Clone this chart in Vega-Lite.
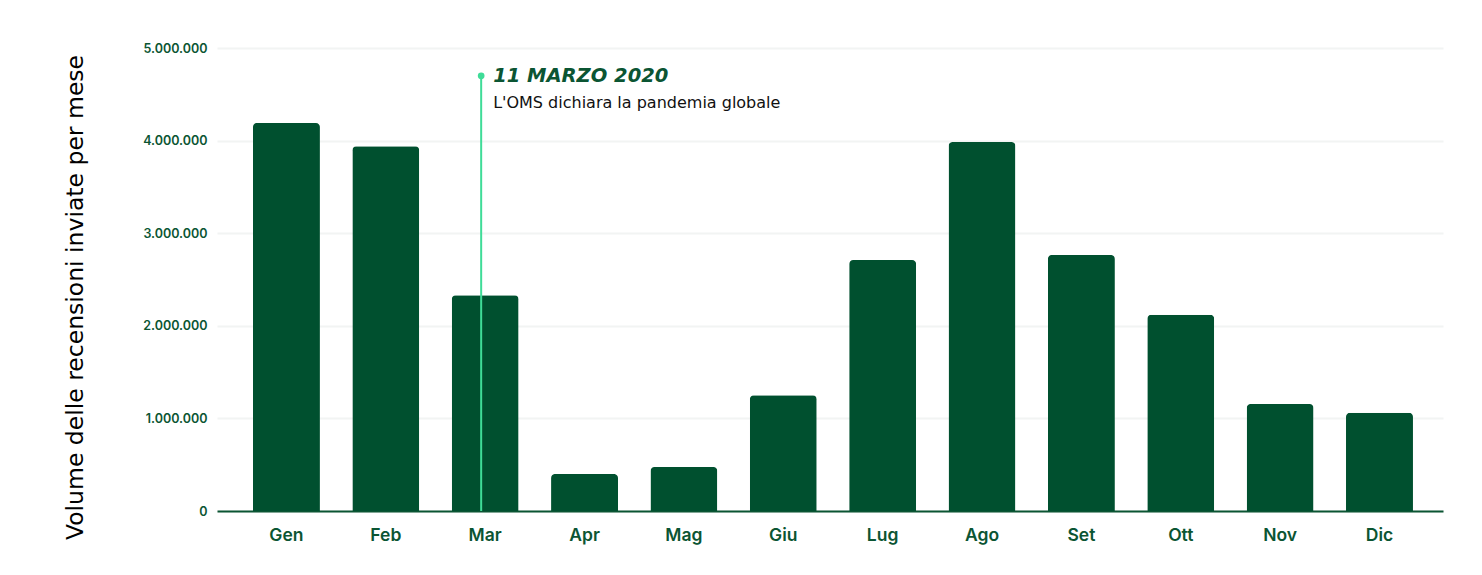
{
  "$schema": "https://vega.github.io/schema/vega-lite/v6.json",
  "width": 1226,
  "height": 463,
  "autosize": {"type": "none"},
  "padding": {"left": 217, "top": 48, "right": 39, "bottom": 64},
  "background": "white",
  "config": {"view": {"stroke": null}, "font": "Inter"},
  "datasets": {
    "months": [
      {"mese": "Gen", "recensioni": 4190000},
      {"mese": "Feb", "recensioni": 3940000},
      {"mese": "Mar", "recensioni": 2330000},
      {"mese": "Apr", "recensioni": 400000},
      {"mese": "Mag", "recensioni": 475000},
      {"mese": "Giu", "recensioni": 1250000},
      {"mese": "Lug", "recensioni": 2710000},
      {"mese": "Ago", "recensioni": 3985000},
      {"mese": "Set", "recensioni": 2765000},
      {"mese": "Ott", "recensioni": 2120000},
      {"mese": "Nov", "recensioni": 1155000},
      {"mese": "Dic", "recensioni": 1060000}
    ],
    "evento": [
      {"mese": "Mar", "livello": 4700000, "titolo": "11 MARZO 2020", "testo": "L'OMS dichiara la pandemia globale"}
    ]
  },
  "layer": [
    {
      "data": {"name": "months"},
      "mark": {"type": "bar", "color": "#00502f", "cornerRadiusTopLeft": 4, "cornerRadiusTopRight": 4},
      "encoding": {
        "x": {
          "field": "mese", "type": "nominal",
          "scale": {"domain": ["Gen", "Feb", "Mar", "Apr", "Mag", "Giu", "Lug", "Ago", "Set", "Ott", "Nov", "Dic"], "paddingInner": 0.326, "paddingOuter": 0.332, "align": 0.545},
          "axis": {
            "title": null, "labelAngle": 0, "ticks": false,
            "domainColor": "#0b5533", "domainWidth": 2,
            "labelFont": "Inter", "labelFontSize": 17.5, "labelFontWeight": 600,
            "labelColor": "#0b5533", "labelPadding": 15
          }
        },
        "y": {
          "field": "recensioni", "type": "quantitative",
          "scale": {"domain": [0, 5000000], "nice": false},
          "axis": {
            "values": [0, 1000000, 2000000, 3000000, 4000000, 5000000],
            "labelExpr": "replace(replace(format(datum.value, ','), ',', '.'), ',', '.')",
            "domain": false, "ticks": false,
            "gridColor": "#f2f4f3", "gridWidth": 2,
            "labelFont": "Inter", "labelFontSize": 12.5, "labelFontWeight": 600,
            "labelColor": "#0b5533", "labelPadding": 10,
            "title": "Volume delle recensioni inviate per mese",
            "titleFont": "DejaVu Sans", "titleFontSize": 23.5, "titleFontWeight": "normal",
            "titleColor": "#000000", "titleAngle": -90, "titleAlign": "center",
            "titleBaseline": "alphabetic", "titleX": -135, "titleY": 249
          }
        }
      }
    },
    {
      "data": {"name": "evento"},
      "mark": {"type": "rule", "color": "#3fdc98", "strokeWidth": 2},
      "encoding": {
        "x": {"field": "mese", "type": "nominal", "bandPosition": 0.44},
        "y": {"field": "livello", "type": "quantitative"},
        "y2": {"datum": 0}
      }
    },
    {
      "data": {"name": "evento"},
      "mark": {"type": "point", "filled": true, "color": "#3fdc98", "size": 45, "opacity": 1},
      "encoding": {
        "x": {"field": "mese", "type": "nominal", "bandPosition": 0.44},
        "y": {"field": "livello", "type": "quantitative"}
      }
    },
    {
      "data": {"name": "evento"},
      "mark": {"type": "text", "align": "left", "baseline": "alphabetic", "dx": 12, "dy": 6, "font": "DejaVu Sans", "fontSize": 19.5, "fontWeight": "bold", "fontStyle": "italic", "color": "#0b5533"},
      "encoding": {
        "x": {"field": "mese", "type": "nominal", "bandPosition": 0.44},
        "y": {"field": "livello", "type": "quantitative"},
        "text": {"field": "titolo"}
      }
    },
    {
      "data": {"name": "evento"},
      "mark": {"type": "text", "align": "left", "baseline": "alphabetic", "dx": 12, "dy": 32, "font": "DejaVu Sans", "fontSize": 16, "color": "#111111"},
      "encoding": {
        "x": {"field": "mese", "type": "nominal", "bandPosition": 0.44},
        "y": {"field": "livello", "type": "quantitative"},
        "text": {"field": "testo"}
      }
    }
  ]
}
